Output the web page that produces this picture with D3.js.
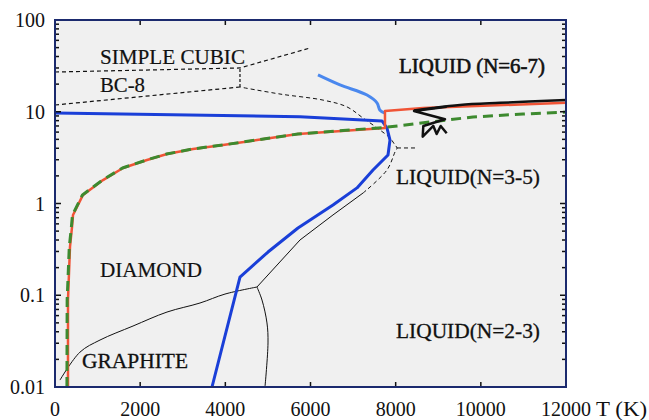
<!DOCTYPE html>
<html><head><meta charset="utf-8">
<script src="https://cdn.jsdelivr.net/npm/d3@7"></script>
<style>body{margin:0;background:#fff}svg{display:block}text{font-family:"Liberation Serif","Times New Roman",serif;fill:#111}</style>
</head><body>
<svg id="c" width="649" height="420"></svg>
<script>
// ---- data (T in K, P in arbitrary log units) ----
const xTicks = [0, 2000, 4000, 6000, 8000, 10000, 12000];
const xTickLabels = ["0", "2000", "4000", "6000", "8000", "10000", "12000"];
const yTicks = [0.01, 0.1, 1, 10, 100];
const yTickLabels = ["0.01", "0.1", "1", "10", "100"];

const darkBlue = [[0,9.69],[5753,8.83],[7679,7.93],[7796,6.65],[7867,4.92],[7820,3.38],[7468,2.32],[7092,1.48],[6528,0.964],[5706,0.541],[5002,0.296],[4344,0.158],[3687,0.01]];
const lightBlue = [[6176,25.2],[6693,19.6],[7327,15.2],[7561,12.5],[7632,10.4],[7749,9.69]];
const red = [[305,0.01],[305,0.0887],[352,0.336],[400,0.555],[423,0.75],[657,1.24],[1127,1.8],[1597,2.44],[2160,2.98],[2630,3.46],[3241,3.93],[3945,4.34],[4743,4.92],[5706,5.72],[7749,6.65],[7749,10.2],[8642,11.0],[12000,12.5]];
const green = [[280,0.01],[285,0.0887],[335,0.336],[385,0.555],[410,0.75],[645,1.24],[1115,1.8],[1585,2.44],[2150,2.98],[2620,3.46],[3230,3.93],[3935,4.34],[4735,4.92],[5700,5.72],[7749,6.75],[8806,7.73],[9816,8.77],[10990,9.45],[12000,9.94]];
const blackZig = [[9198,11.35],[8430,10.2],[9158,8.27],[8649,7.0],[8635,5.35],[8884,7.0],[8963,5.72],[9057,7.0],[9198,5.82]];
const blackTop = [[8430,10.3],[8877,11.0],[9511,11.85],[10450,12.5],[12000,13.4]];
const graphiteDiamond = [[117,0.0119],[587,0.024],[1057,0.0325],[1832,0.0462],[2630,0.0656],[3405,0.0823],[3992,0.103],[4743,0.123]];
const graphiteLiquid = [[4743,0.123],[4861,0.0887],[4978,0.0499],[5002,0.0302],[4931,0.01]];
const diamondLiquid = [[4743,0.123],[5753,0.4],[6528,0.75],[7233,1.3]];
const diamondLiquidDashed = [[7233,1.3],[7796,2.32],[7984,3.64],[8031,4.03],[7984,4.34],[7867,5.17],[7632,6.32],[7233,8.55],[6857,11.3],[6293,13.4],[5284,15.6],[4344,18.6]];
const stub = [[8031,4.03],[8501,4.03]];
const bc8Lower = [[0,11.85],[4344,18.6]];
const scUpper = [[0,27.1],[4344,30.0],[5988,49.5]];
const triple = [[4344,18.6],[4344,30.0]];

const labels = [
  {t:"SIMPLE CUBIC", T:1057, P:33.1, w:145, s:0.2},
  {t:"BC-8", T:1057, P:16.4, w:45, s:0.2},
  {t:"LIQUID (N=6-7)", T:8078, P:26.4, w:146, s:0.6},
  {t:"LIQUID(N=3-5)", T:8008, P:1.63, w:144, s:0.3},
  {t:"DIAMOND", T:1057, P:0.158, w:102, s:0.2},
  {t:"GRAPHITE", T:634, P:0.0161, w:106, s:0.3},
  {t:"LIQUID(N=2-3)", T:8008, P:0.0342, w:144, s:0.3}
];

// ---- chart ----
const svg = d3.select("#c");
const x = d3.scaleLinear([0, 12000], [55, 566]);
const y = d3.scaleLog([0.01, 100], [387, 20]);

svg.append("rect").attr("x", 55).attr("y", 20).attr("width", 511).attr("height", 367).attr("fill", "#f0f0f0");

const line = d3.line().x(d => x(d[0])).y(d => y(d[1]));
const smooth = d3.line().x(d => x(d[0])).y(d => y(d[1])).curve(d3.curveCatmullRom);
const g = svg.append("g");
function path(data, color, w, dash, gen) {
  const p = g.append("path").attr("d", (gen || line)(data)).attr("fill", "none").attr("stroke", color)
    .attr("stroke-width", w).attr("stroke-linejoin", "round").attr("stroke-linecap", "butt");
  if (dash) p.attr("stroke-dasharray", dash);
  return p;
}
path(graphiteDiamond, "#111", 1, null, smooth);
path(graphiteLiquid, "#111", 1, null, smooth);
path(diamondLiquid, "#111", 1);
path(diamondLiquidDashed, "#111", 1, "4,3", smooth);
path(stub, "#111", 1, "4,3");
path(bc8Lower, "#111", 1.2, "4,3");
path(scUpper, "#111", 1.2, "4,3");
path(triple, "#111", 1.2, "3,2");
path(darkBlue, "#1a3fd8", 3);
path(lightBlue, "#4a88ee", 3, null, smooth);
path(red, "#f05436", 2.5);
path(green, "#3d8a2f", 3, "10,6");
path(blackTop, "#111", 2.5, null, smooth);
path(blackZig, "#111", 2.5);

// labels
labels.forEach(l => {
  svg.append("text").attr("x", x(l.T)).attr("y", y(l.P)).attr("font-size", 21)
    .attr("stroke", "#111").attr("stroke-width", l.s)
    .attr("textLength", l.w).attr("lengthAdjust", "spacingAndGlyphs").text(l.t);
});

// axes frame & ticks
const axisColor = "#1b2a6e";
const tk = svg.append("g").attr("stroke", "#111").attr("stroke-width", 1.5);
xTicks.slice(1, -1).forEach(v => {
  tk.append("line").attr("x1", x(v)).attr("x2", x(v)).attr("y1", 387).attr("y2", 382);
  tk.append("line").attr("x1", x(v)).attr("x2", x(v)).attr("y1", 20).attr("y2", 25);
});
for (let i = 0; i < yTicks.length; i++) {
  const v = yTicks[i];
  tk.append("line").attr("x1", 55).attr("x2", 61).attr("y1", y(v)).attr("y2", y(v));
  tk.append("line").attr("x1", 566).attr("x2", 560).attr("y1", y(v)).attr("y2", y(v));
  if (i < yTicks.length - 1) {
    for (let k = 2; k <= 9; k++) {
      const m = v * k;
      tk.append("line").attr("x1", 55).attr("x2", 59).attr("y1", y(m)).attr("y2", y(m));
      tk.append("line").attr("x1", 566).attr("x2", 562).attr("y1", y(m)).attr("y2", y(m));
    }
  }
}
svg.append("rect").attr("x", 55).attr("y", 20).attr("width", 511).attr("height", 367)
  .attr("fill", "none").attr("stroke", axisColor).attr("stroke-width", 2);

xTicks.forEach((v, i) => {
  svg.append("text").attr("x", x(v)).attr("y", 416).attr("text-anchor", "middle").attr("font-size", 20).text(xTickLabels[i]);
});
svg.append("text").attr("x", 596).attr("y", 416).attr("font-size", 20).attr("textLength", 51).attr("lengthAdjust", "spacingAndGlyphs").text("T (K)");
yTicks.forEach((v, i) => {
  svg.append("text").attr("x", 45).attr("y", y(v)).attr("dy", "0.35em").attr("text-anchor", "end").attr("font-size", 20).text(yTickLabels[i]);
});
</script>
</body></html>
